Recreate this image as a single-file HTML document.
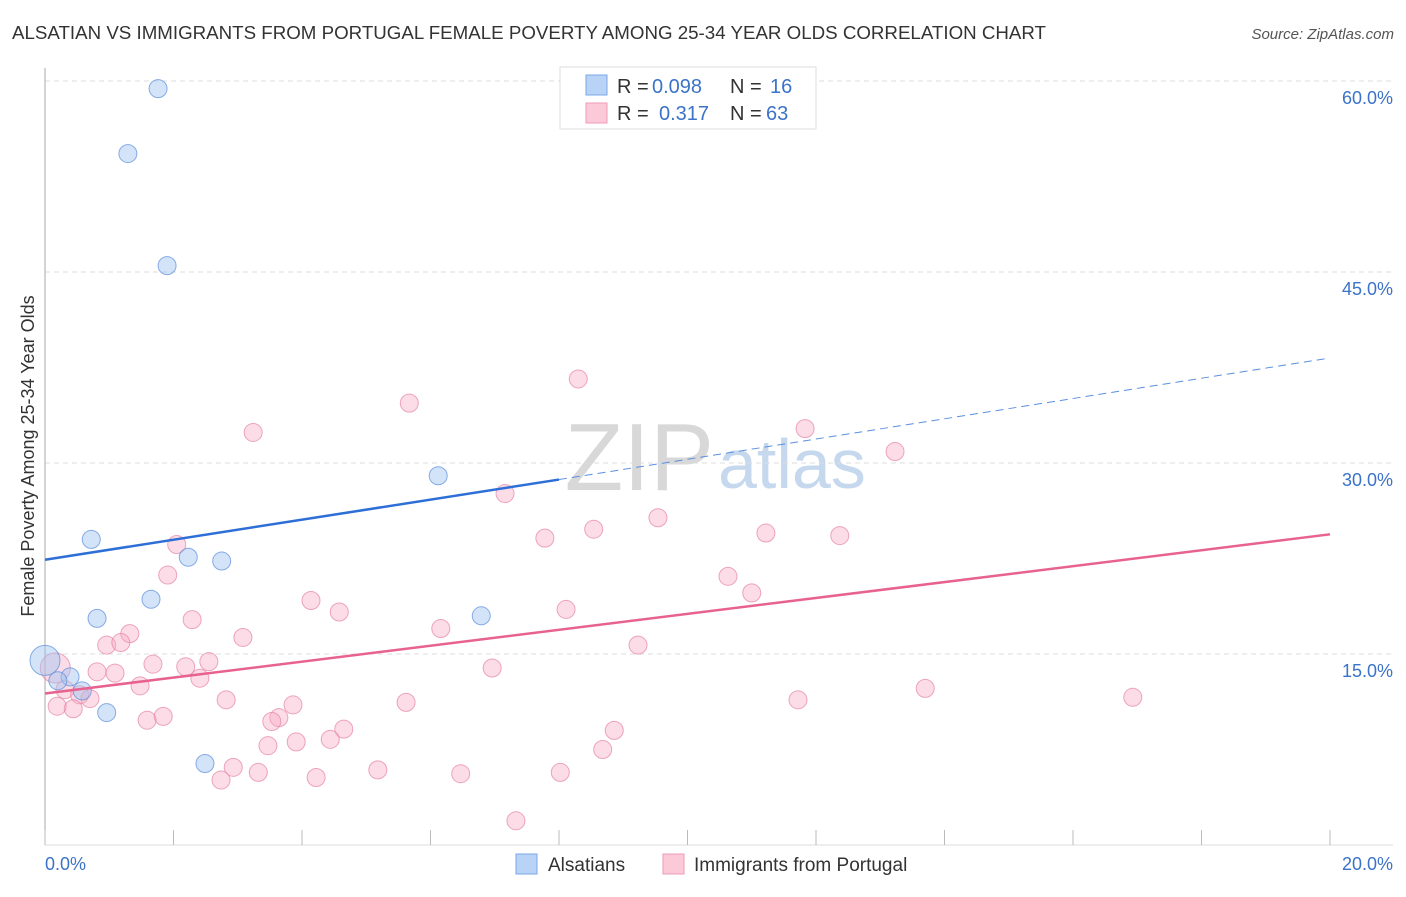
<!DOCTYPE html>
<html><head><meta charset="utf-8"><style>
body{margin:0;background:#fff;font-family:"Liberation Sans",sans-serif;}
svg text{font-family:"Liberation Sans",sans-serif;}
</style></head><body>
<svg id="chart" width="1406" height="892">
<text x="12" y="39" font-size="18.5" fill="#333" textLength="1034" lengthAdjust="spacingAndGlyphs">ALSATIAN VS IMMIGRANTS FROM PORTUGAL FEMALE POVERTY AMONG 25-34 YEAR OLDS CORRELATION CHART</text>
<text x="1394" y="39" font-size="15" fill="#555" font-style="italic" text-anchor="end">Source: ZipAtlas.com</text>
<text x="714" y="490" font-size="96" fill="#d8d8d8" font-family="Liberation Serif,serif" text-anchor="end">ZIP</text>
<text x="718" y="488" font-size="70" fill="#c5d8ee">atlas</text>
<g id="grid"></g><g id="marks"></g>
<text transform="translate(34,456) rotate(-90)" font-size="18" fill="#333" text-anchor="middle">Female Poverty Among 25-34 Year Olds</text>
<g>
<rect x="560" y="67" width="256" height="62" fill="#fff" stroke="#ddd"/>
<rect x="586" y="75" width="21" height="20" fill="#b8d3f5" stroke="#7aa7e6"/>
<rect x="586" y="103" width="21" height="20" fill="#fcc9d8" stroke="#ee9bb7"/>
<text x="617" y="93" font-size="20" fill="#333">R =</text>
<text x="652" y="93" font-size="20" fill="#3b73c8">0.098</text>
<text x="730" y="93" font-size="20" fill="#333">N =</text>
<text x="770" y="93" font-size="20" fill="#3b73c8">16</text>
<text x="617" y="120" font-size="20" fill="#333">R =</text>
<text x="659" y="120" font-size="20" fill="#3b73c8">0.317</text>
<text x="730" y="120" font-size="20" fill="#333">N =</text>
<text x="766" y="120" font-size="20" fill="#3b73c8">63</text>
</g>
<g>
<rect x="516" y="854" width="21" height="20" fill="#b8d3f5" stroke="#7aa7e6"/>
<text x="548" y="871" font-size="19" fill="#333">Alsatians</text>
<rect x="663" y="854" width="21" height="20" fill="#fcc9d8" stroke="#ee9bb7"/>
<text x="694" y="871" font-size="19" fill="#333">Immigrants from Portugal</text>
</g>
</svg>
<script>
const yTicks=[15,30,45,60];
const yTickLabels=["15.0%","30.0%","45.0%","60.0%"];
const xTickVals=[0,2,4,6,8,10,12,14,16,18,20];
const blueX=[1.76,1.29,1.90,6.12,0.72,2.23,2.75,1.65,0.81,6.79,0,0.39,0.58,0.20,0.96,2.49];
const blueY=[59.4,54.3,45.5,29.0,24.0,22.6,22.3,19.3,17.8,18.0,14.5,13.2,12.1,12.9,10.4,6.4];
const pinkX=[8.30,5.67,3.24,11.83,13.23,7.16,9.54,8.54,7.78,11.22,12.37,2.05,1.91,10.63,11.00,4.14,4.58,8.11,2.29,6.16,1.32,3.08,0.96,1.18,9.23,2.55,1.68,2.19,6.96,0.81,1.09,2.41,1.48,13.70,16.93,0.31,0.54,0.70,2.82,5.62,3.86,11.72,0.19,0.44,3.64,3.53,1.59,1.84,4.65,4.44,3.47,3.91,8.86,8.68,2.93,3.32,5.18,6.47,8.02,4.22,2.74,7.33,0.16];
const pinkY=[36.6,34.7,32.4,32.7,30.9,27.6,25.7,24.8,24.1,24.5,24.3,23.6,21.2,21.1,19.8,19.2,18.3,18.5,17.7,17.0,16.6,16.3,15.7,15.9,15.7,14.4,14.2,14.0,13.9,13.6,13.5,13.1,12.5,12.3,11.6,12.2,11.8,11.5,11.4,11.2,11.0,11.4,10.9,10.7,10.0,9.7,9.8,10.1,9.1,8.3,7.8,8.1,9.0,7.5,6.1,5.7,5.9,5.6,5.7,5.3,5.1,1.9,13.9];
const blueTrend=[0,22.4,8.0,28.7,19.94,38.2];
const pinkTrend=[0,11.9,20,24.4];
const NS="http://www.w3.org/2000/svg";
const xs=v=>45+v/20*1285, ys=v=>845-v/15*191;
function mk(tag,attrs,parent){const e=document.createElementNS(NS,tag);for(const k in attrs)e.setAttribute(k,attrs[k]);parent.appendChild(e);return e;}
const grid=document.getElementById('grid'), marks=document.getElementById('marks');
yTicks.forEach((t,i)=>{
 const l=mk('line',{x1:45,x2:1393,y1:ys(t),y2:ys(t),stroke:'#ddd','stroke-dasharray':'5,4'},grid);
 
 
 const tx=mk('text',{x:1393,y:ys(t)+23,'font-size':18,fill:'#3b73c8','text-anchor':'end'},grid);
 tx.textContent=yTickLabels[i];
 
 
});
const ax=mk('line',{x1:45,x2:45,y1:68,y2:845,stroke:'#aaa'},grid);


const bx=mk('line',{x1:45,x2:1393,y1:845,y2:845,stroke:'#ddd'},grid);


xTickVals.forEach(v=>{
 const t=mk('line',{x1:xs(v),x2:xs(v),y1:830,y2:845,stroke:'#bbb'},grid);
 
 
});
const xl0=mk('text',{x:45,y:870,'font-size':18,fill:'#3b73c8'},grid);xl0.textContent='0.0%';


const xl1=mk('text',{x:1393,y:870,'font-size':18,fill:'#3b73c8','text-anchor':'end'},grid);xl1.textContent='20.0%';


pinkX.forEach((x,i)=>{
 const c=mk('circle',{cx:xs(x),cy:ys(pinkY[i]),r:i==pinkX.length-1?15:9,fill:'rgba(247,170,195,0.4)',stroke:'rgba(230,130,165,0.7)'},marks);
 
 
});
blueX.forEach((x,i)=>{
 const c=mk('circle',{cx:xs(x),cy:ys(blueY[i]),r:x==0?15:9,fill:'rgba(160,195,240,0.45)',stroke:'rgba(90,140,220,0.7)'},marks);
 
 
});
const b1=mk('line',{x1:xs(blueTrend[0]),y1:ys(blueTrend[1]),x2:xs(blueTrend[2]),y2:ys(blueTrend[3]),stroke:'#2d6fd6','stroke-width':2.5},marks);


const b2=mk('line',{x1:xs(blueTrend[2]),y1:ys(blueTrend[3]),x2:xs(blueTrend[4]),y2:ys(blueTrend[5]),stroke:'#5b8fe0','stroke-width':1,'stroke-dasharray':'8,5'},marks);


const p1=mk('line',{x1:xs(pinkTrend[0]),y1:ys(pinkTrend[1]),x2:xs(pinkTrend[2]),y2:ys(pinkTrend[3]),stroke:'#e8628f','stroke-width':2.5},marks);


</script>
</body></html>
